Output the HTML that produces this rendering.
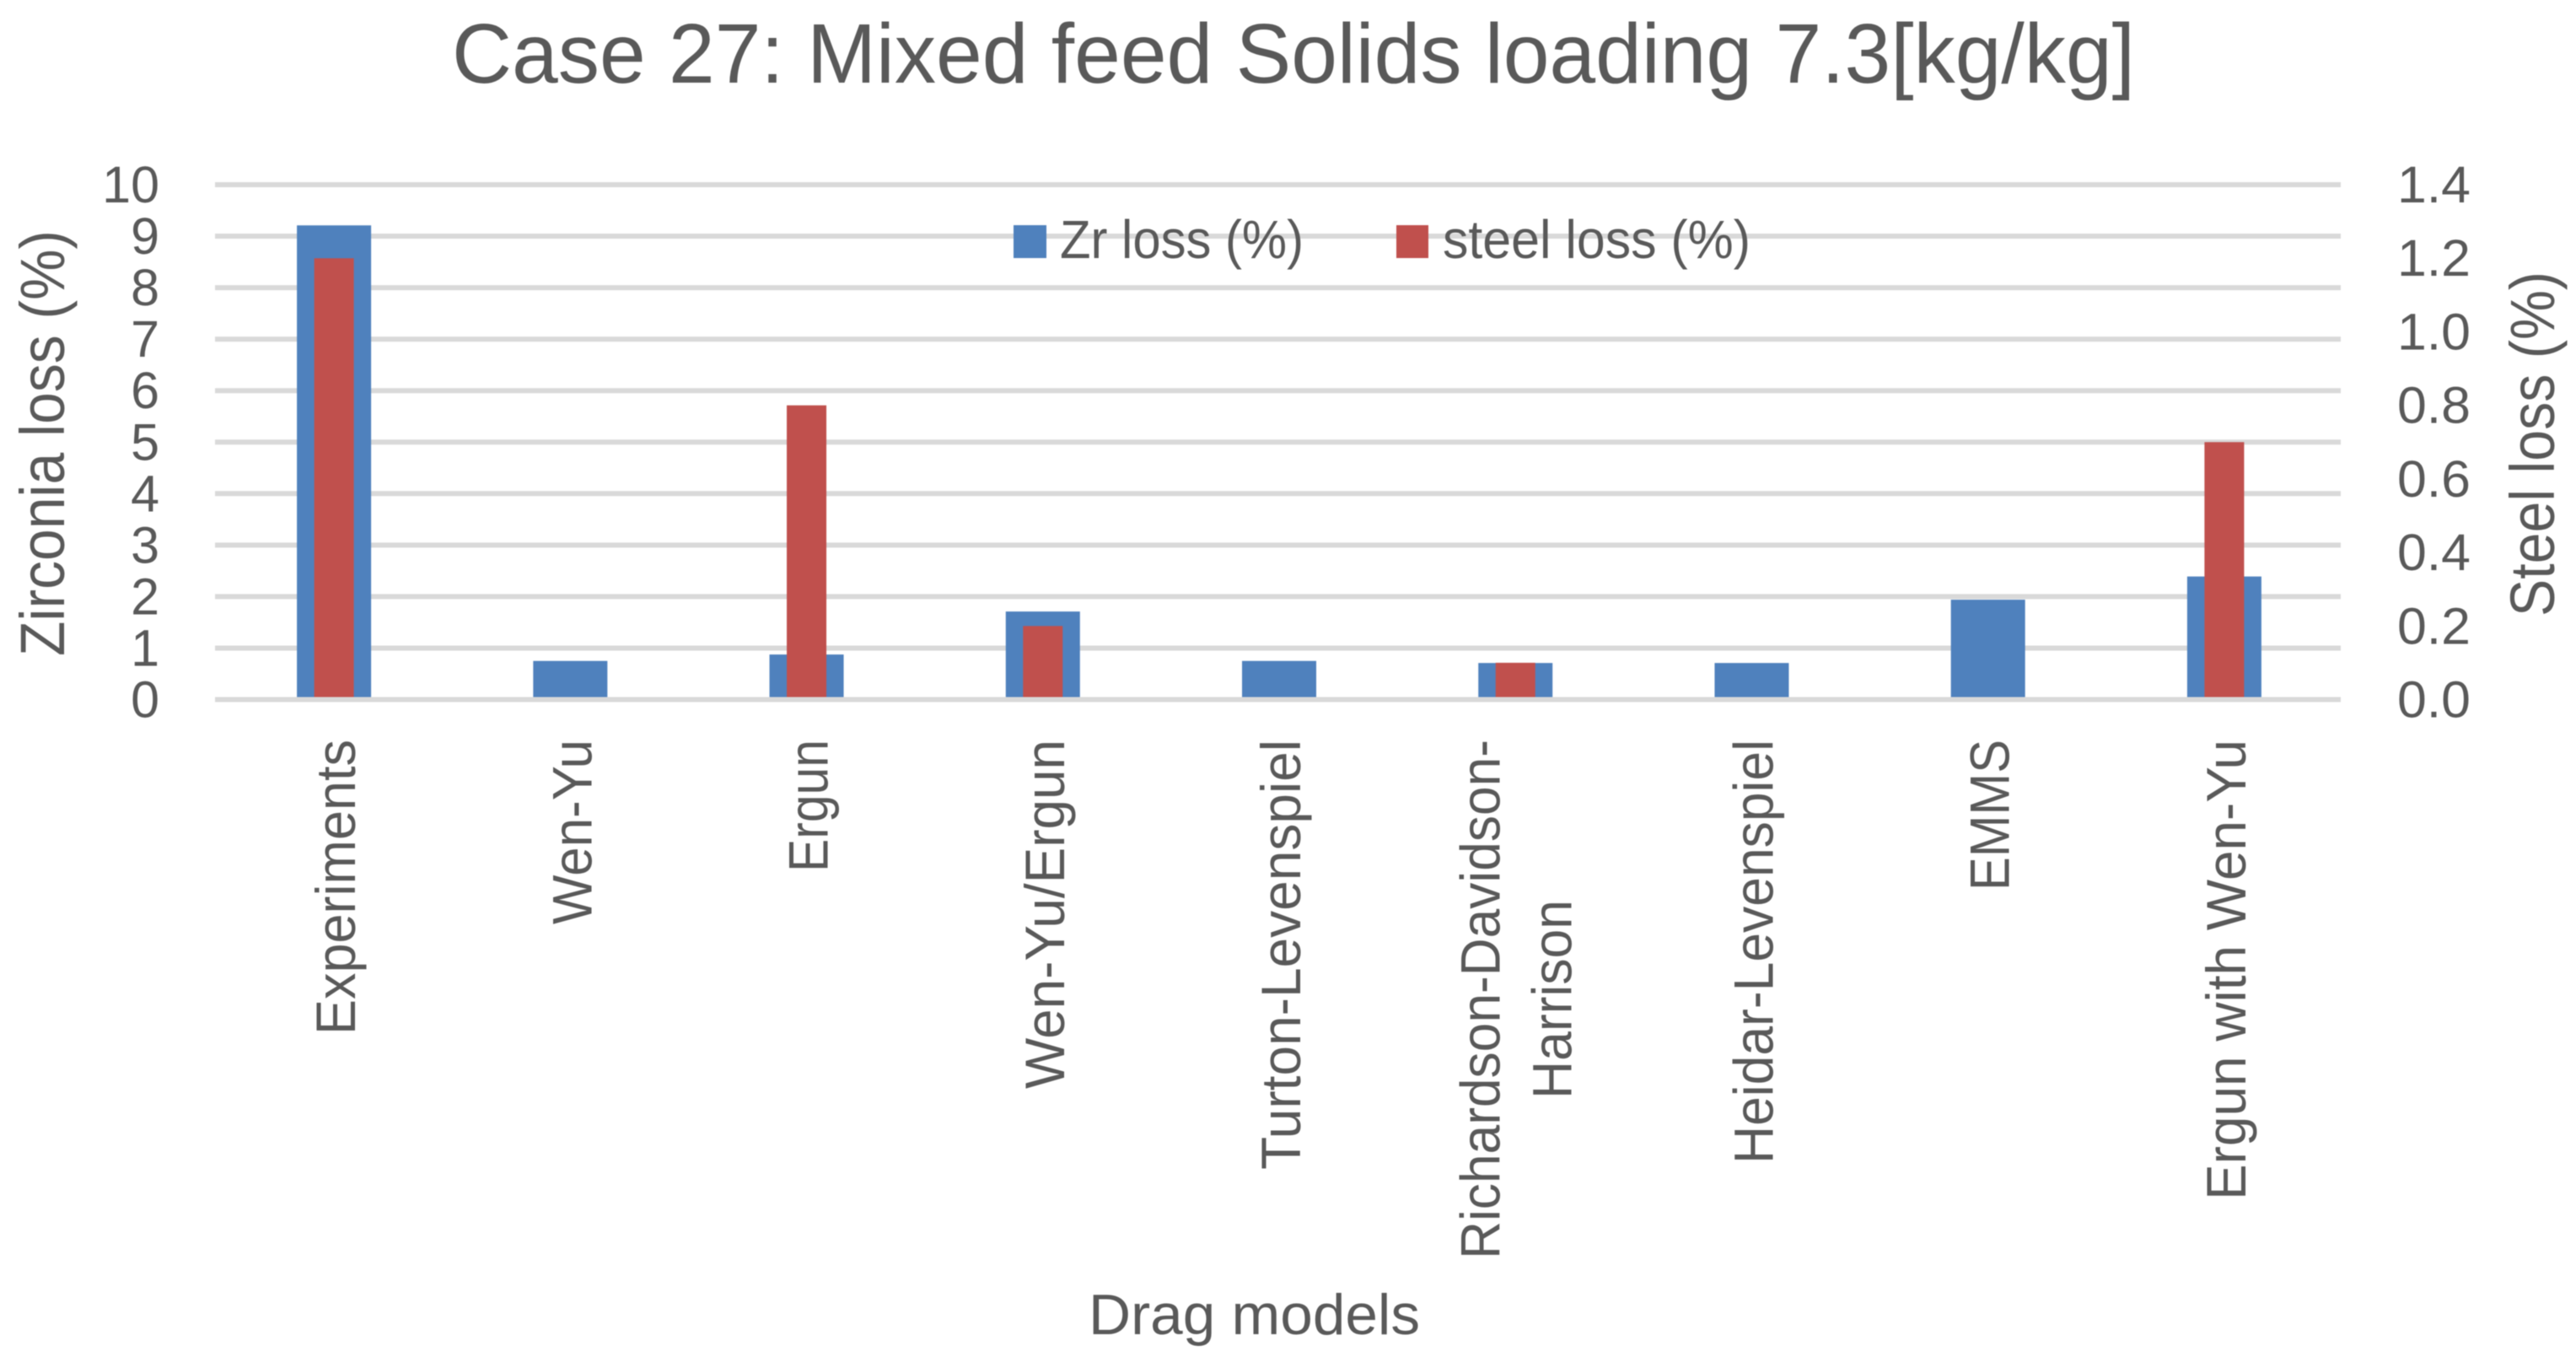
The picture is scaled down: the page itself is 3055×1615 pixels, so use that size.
<!DOCTYPE html>
<html>
<head>
<meta charset="utf-8">
<title>Case 27 chart</title>
<style>
html,body{margin:0;padding:0;background:#fff;width:3055px;height:1615px;overflow:hidden}
svg{display:block;filter:blur(0.6px)}
text{font-family:"Liberation Sans",sans-serif;fill:#595959}
</style>
</head>
<body>
<svg id="chart" xmlns="http://www.w3.org/2000/svg" width="3055" height="1615" viewBox="0 0 3055 1615">
  <rect x="0" y="0" width="3055" height="1615" fill="#fff"/>
  <text x="536" y="98" font-size="100" textLength="1996" lengthAdjust="spacingAndGlyphs">Case 27: Mixed feed Solids loading 7.3[kg/kg]</text>
  <g id="grid"></g>
  <g id="left-ticks"></g>
  <g id="right-ticks"></g>
  <g id="bars"></g>
  <g id="baseline"></g>
  <g id="cats"></g>
  <text transform="translate(76,778) rotate(-90)" font-size="74" textLength="505" lengthAdjust="spacingAndGlyphs">Zirconia loss (%)</text>
  <text transform="translate(3029,731) rotate(-90)" font-size="74" textLength="409" lengthAdjust="spacingAndGlyphs">Steel loss (%)</text>
  <text x="1291" y="1582" font-size="68" textLength="393" lengthAdjust="spacingAndGlyphs">Drag models</text>
  <g>
    <rect x="1202" y="267" width="39" height="39" fill="#4F81BD"/>
    <text x="1257" y="306" font-size="64" textLength="289" lengthAdjust="spacingAndGlyphs">Zr loss (%)</text>
    <rect x="1656" y="267" width="38" height="39" fill="#C0504D"/>
    <text x="1711" y="306" font-size="64" textLength="365" lengthAdjust="spacingAndGlyphs">steel loss (%)</text>
  </g>
</svg>
<script>
const categories = ["Experiments","Wen-Yu","Ergun","Wen-Yu/Ergun","Turton-Levenspiel","Richardson-Davidson-|Harrison","Heidar-Levenspiel","EMMS","Ergun with Wen-Yu"];
const zrLoss = [9.21,0.75,0.875,1.71,0.75,0.71,0.71,1.94,2.39];
const steelLoss = [1.2,0,0.8,0.2,0,0.1,0,0,0.7];
const leftTickLabels = ["0","1","2","3","4","5","6","7","8","9","10"];
const rightTickLabels = ["0.0","0.2","0.4","0.6","0.8","1.0","1.2","1.4"];

const NS = "http://www.w3.org/2000/svg";
const plot = {left:256, right:2778, top:219, bottom:829.5, gridLeft:255, gridRight:2776};
const leftMax = 10, rightMax = 1.4;
const labelFit = {"Experiments":350,"Wen-Yu":219,"Ergun":157,"Wen-Yu/Ergun":414,"Turton-Levenspiel":510,"Richardson-Davidson-":616,"Harrison":236,"Heidar-Levenspiel":503,"EMMS":179,"Ergun with Wen-Yu":546};

function yLeft(v){ return plot.bottom - (v / leftMax) * (plot.bottom - plot.top); }
function yRight(v){ return plot.bottom - (v / rightMax) * (plot.bottom - plot.top); }
function xCenter(i){ return plot.left + (i + 0.5) * (plot.right - plot.left) / categories.length; }
function make(tag, attrs, parent){
  const el = document.createElementNS(NS, tag);
  for (const k in attrs) el.setAttribute(k, attrs[k]);
  parent.appendChild(el);
  return el;
}

const gGrid = document.getElementById("grid");
const gLeft = document.getElementById("left-ticks");
const gRight = document.getElementById("right-ticks");
const gBars = document.getElementById("bars");
const gBase = document.getElementById("baseline");
const gCats = document.getElementById("cats");

leftTickLabels.forEach(function(label){
  const v = parseFloat(label);
  const parent = v === 0 ? gBase : gGrid;
  const line = make("line", {x1:plot.gridLeft, x2:plot.gridRight, y1:yLeft(v), y2:yLeft(v), stroke:"#D9D9D9", "stroke-width":6}, parent);
  
  
  const t = make("text", {x:189, y:yLeft(v) + 21, "font-size":61, "text-anchor":"end"}, gLeft);
  
  
  t.textContent = label;
});

rightTickLabels.forEach(function(label){
  const v = parseFloat(label);
  const t = make("text", {x:2843, y:yRight(v) + 21, "font-size":61, textLength:87, lengthAdjust:"spacingAndGlyphs"}, gRight);
  
  
  t.textContent = label;
});

const zrWidth = 88, steelWidth = 47;
zrLoss.forEach(function(v, i){
  const r = make("rect", {x:xCenter(i) - zrWidth / 2, y:yLeft(v), width:zrWidth, height:plot.bottom - yLeft(v), fill:"#4F81BD"}, gBars);
  
  
});
steelLoss.forEach(function(v, i){
  if (v <= 0) return;
  const r = make("rect", {x:xCenter(i) - steelWidth / 2, y:yRight(v), width:steelWidth, height:plot.bottom - yRight(v), fill:"#C0504D"}, gBars);
  
  
});

categories.forEach(function(cat, i){
  const lines = cat.split("|");
  const lineGap = 85;
  const firstOffset = lines.length > 1 ? -18.5 : 25;
  lines.forEach(function(line, j){
    const bx = xCenter(i) + firstOffset + j * lineGap;
    const span = labelFit[line];
    const blockTop = 877;
    const longest = Math.max.apply(null, lines.map(function(s){ return labelFit[s]; }));
    const startY = blockTop + (lines.length > 1 ? (longest + span) / 2 : span);
    const t = make("text", {transform:"translate(" + bx + "," + startY + ") rotate(-90)", "font-size":66, textLength:span, lengthAdjust:"spacingAndGlyphs"}, gCats);
    
    
    t.textContent = line;
  });
});
</script>
</body>
</html>
